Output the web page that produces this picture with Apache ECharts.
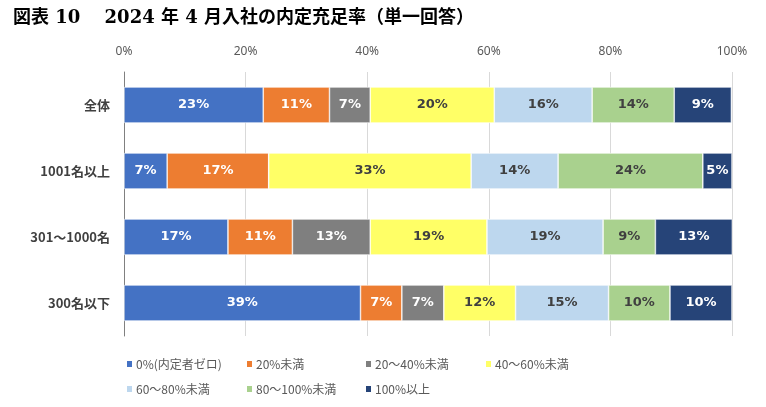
<!DOCTYPE html>
<html>
<head>
<meta charset="utf-8">
<script src="https://cdn.jsdelivr.net/npm/echarts@6/dist/echarts.min.js"></script>
<style>
  html, body { margin: 0; padding: 0; background: #fff; }
  #chart { width: 766px; height: 407px; }
</style>
</head>
<body>
<div id="chart"></div>
<script>
// 区分（上から）
var categories = ['全体', '1001名以上', '301～1000名', '300名以下'];
var seriesNames = ['0%(内定者ゼロ)', '20%未満', '20～40%未満', '40～60%未満', '60～80%未満', '80～100%未満', '100%以上'];
// 各区分の値（%）: 列は categories の順
var zero      = [22.9, 7.1, 17.1, 38.9];
var under20   = [10.9, 16.7, 10.6, 6.8];
var r20to40   = [6.7, 0, 12.8, 6.9];
var r40to60   = [20.4, 33.3, 19.2, 11.8];
var r60to80   = [16.1, 14.3, 19.1, 15.3];
var r80to100  = [13.5, 23.8, 8.6, 10.1];
var full      = [9.4, 4.8, 12.7, 10.2];
var xTicks = [0, 20, 40, 60, 80, 100];

var colors = ['#4472C4', '#ED7D31', '#7F7F7F', '#FFFF66', '#BDD7EE', '#A9D18E', '#264478'];
var labelColors = ['#fff', '#fff', '#fff', '#404040', '#404040', '#404040', '#fff'];
var allData = [zero, under20, r20to40, r40to60, r60to80, r80to100, full];

var series = [];
for (var i = 0; i < seriesNames.length; i++) {
  series.push({
    name: seriesNames[i],
    type: 'bar',
    stack: 'total',
    barWidth: 36,
    data: allData[i],
    itemStyle: { color: colors[i], borderColor: '#fff', borderWidth: 0.6 },
    label: {
      show: true,
      position: 'inside',
      color: labelColors[i],
      fontSize: 13,
      fontWeight: 'bold',
      fontFamily: '"DejaVu Sans", sans-serif',
      formatter: function (p) { return p.value > 0 ? Math.round(p.value) + '%' : ''; }
    },
    emphasis: { disabled: true }
  });
}

// 凡例は4列×2行に並べる
var legendPos = [[125, 358], [245, 358], [364, 358], [484, 358], [125, 383], [245, 383], [364, 383]];
var legends = [];
for (var j = 0; j < seriesNames.length; j++) {
  legends.push({
    data: [seriesNames[j]],
    left: legendPos[j][0],
    top: legendPos[j][1],
    icon: 'rect',
    itemWidth: 7,
    itemHeight: 8,
    itemGap: 0,
    padding: 0,
    textStyle: { color: '#595959', fontSize: 12, padding: [0, 0, 0, -2], fontFamily: '"Noto Sans CJK JP", sans-serif' },
    selectedMode: false
  });
}

var option = {
  animation: false,
  backgroundColor: '#fff',
  title: {
    text: '図表 10　 2024 年 4 月入社の内定充足率（単一回答）',
    left: 8,
    top: 4,
    textStyle: { fontSize: 18, fontWeight: 'bold', color: '#000', fontFamily: '"DejaVu Serif", "Noto Sans CJK JP", serif' }
  },
  legend: legends,
  grid: { left: 124, right: 34, top: 72, bottom: 71 },
  xAxis: {
    type: 'value',
    position: 'top',
    min: xTicks[0],
    max: xTicks[xTicks.length - 1],
    interval: 20,
    axisLine: { show: false },
    axisTick: { show: false },
    axisLabel: { formatter: '{value}%', color: '#595959', fontSize: 12, margin: 14, fontFamily: '"Noto Sans", sans-serif' },
    splitLine: { lineStyle: { color: '#D9D9D9' } }
  },
  yAxis: {
    type: 'category',
    inverse: true,
    data: categories,
    axisLine: { lineStyle: { color: '#808080' } },
    axisTick: { show: false },
    axisLabel: { color: '#404040', fontSize: 13, fontWeight: 'bold', margin: 14, fontFamily: '"Noto Sans CJK JP", sans-serif' }
  },
  series: series
};

echarts.init(document.getElementById('chart')).setOption(option);
</script>
</body>
</html>
